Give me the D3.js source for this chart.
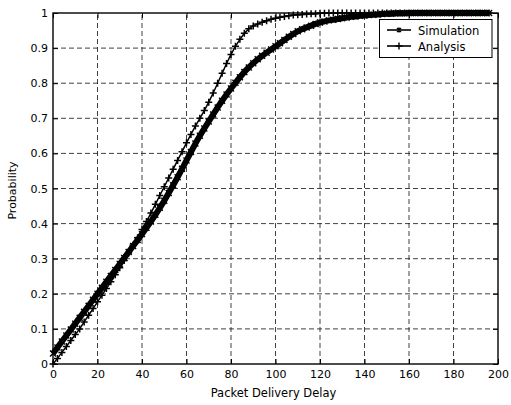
<!DOCTYPE html>
<html>
<head>
<meta charset="utf-8">
<script src="https://cdn.jsdelivr.net/npm/d3@7/dist/d3.min.js"></script>
<style>
  html, body { margin: 0; padding: 0; background: #fff; }
  svg { display: block; }
  text { font-family: "DejaVu Sans", "Liberation Sans", Arial, sans-serif; font-size: 11px; fill: #000; }
</style>
</head>
<body>
<svg id="chart" width="511" height="405"></svg>
<script>
// ---------- data ----------
const xTicks = [0, 20, 40, 60, 80, 100, 120, 140, 160, 180, 200];
const yTicks = [0, 0.1, 0.2, 0.3, 0.4, 0.5, 0.6, 0.7, 0.8, 0.9, 1];
const yTickLabels = ["0", "0.1", "0.2", "0.3", "0.4", "0.5", "0.6", "0.7", "0.8", "0.9", "1"];
const seriesNames = ["Simulation", "Analysis"];

const delay = [0,2,4,6,8,10,12,14,16,18,20,22,24,26,28,30,32,34,36,38,40,42,44,46,48,50,52,54,56,58,
  60,62,64,66,68,70,72,74,76,78,80,82,84,86,88,90,92,94,96,98,100,102,104,106,108,110,112,114,116,118,
  120,122,124,126,128,130,132,134,136,138,140,142,144,146,148,150,152,154,156,158,160,162,164,166,168,
  170,172,174,176,178,180,182,184,186,188,190,192,194,196];

const simulation = [0.030,0.047,0.064,0.081,0.098,0.115,0.132,0.149,0.166,0.183,
  0.200,0.217,0.234,0.251,0.268,0.285,0.302,0.319,0.336,0.353,
  0.370,0.388,0.406,0.425,0.445,0.465,0.487,0.509,0.532,0.556,
  0.580,0.604,0.628,0.650,0.671,0.691,0.711,0.731,0.750,0.768,
  0.785,0.801,0.817,0.832,0.845,0.857,0.868,0.878,0.887,0.896,
  0.905,0.914,0.923,0.932,0.940,0.948,0.954,0.959,0.964,0.969,
  0.973,0.976,0.979,0.981,0.983,0.985,0.987,0.989,0.990,0.992,
  0.993,0.994,0.995,0.996,0.997,0.998,0.998,0.999,0.999,0.999,
  1.000,1.000,1.000,1.000,1.000,1.000,1.000,1.000,1.000,1.000,
  1.000,1.000,1.000,1.000,1.000,1.000,1.000,1.000,1.000];

const analysis = [0.000,0.016,0.033,0.050,0.067,0.084,0.100,0.120,0.139,0.158,
  0.177,0.196,0.215,0.234,0.254,0.274,0.295,0.316,0.338,0.360,
  0.383,0.406,0.430,0.455,0.480,0.505,0.530,0.555,0.580,0.605,
  0.630,0.654,0.678,0.700,0.722,0.746,0.772,0.800,0.828,0.856,
  0.882,0.905,0.925,0.942,0.955,0.963,0.969,0.974,0.978,0.982,
  0.985,0.988,0.990,0.992,0.994,0.995,0.996,0.997,0.998,0.998,
  0.999,0.999,1.000,1.000,1.000,1.000,1.000,1.000,1.000,1.000,
  1.000,1.000,1.000,1.000,1.000,1.000,1.000,1.000,1.000,1.000,
  1.000,1.000,1.000,1.000,1.000,1.000,1.000,1.000,1.000,1.000,
  1.000,1.000,1.000,1.000,1.000,1.000,1.000,1.000,1.000];

// ---------- layout ----------
const svg = d3.select("#chart");
const L = 53, R = 498, T = 13, B = 364;
const x = d3.scaleLinear().domain([0, 200]).range([L, R]);
const y = d3.scaleLinear().domain([0, 1]).range([B, T]);

// grid
const grid = svg.append("g").attr("stroke", "#111").attr("stroke-width", 0.8)
  .attr("stroke-dasharray", "5,3").attr("fill", "none");
grid.selectAll("line.gx").data(xTicks.slice(1, -1)).join("line")
  .attr("x1", d => x(d)).attr("x2", d => x(d)).attr("y1", B).attr("y2", T);
grid.selectAll("line.gy").data(yTicks.slice(1, -1)).join("line")
  .attr("y1", d => y(d)).attr("y2", d => y(d)).attr("x1", L).attr("x2", R);

// axes (inward ticks, MATLAB style)
const axB = svg.append("g").attr("transform", `translate(0,${B})`)
  .call(d3.axisBottom(x).tickValues(xTicks).tickSizeInner(-5).tickSizeOuter(0).tickPadding(7));
const axL = svg.append("g").attr("transform", `translate(${L},0)`)
  .call(d3.axisLeft(y).tickValues(yTicks).tickFormat((d, i) => yTickLabels[i]).tickSizeInner(-5).tickSizeOuter(0).tickPadding(5));
const axT = svg.append("g").attr("transform", `translate(0,${T})`)
  .call(d3.axisTop(x).tickValues(xTicks).tickSizeInner(-5).tickSizeOuter(0).tickFormat(""));
const axR = svg.append("g").attr("transform", `translate(${R},0)`)
  .call(d3.axisRight(y).tickValues(yTicks).tickSizeInner(-5).tickSizeOuter(0).tickFormat(""));
[axB, axL, axT, axR].forEach(a => {
  a.select(".domain").remove();
  a.selectAll("line").attr("stroke", "#000");
  a.selectAll("text").attr("font-family", "DejaVu Sans, sans-serif").attr("font-size", 11).attr("fill", "#000");
});
axB.selectAll("text").attr("dy", "0.6em");

// frame
svg.append("rect").attr("x", L).attr("y", T).attr("width", R - L).attr("height", B - T)
  .attr("fill", "none").attr("stroke", "#000").attr("stroke-width", 1.4);

// series
const simData = delay.map((d, i) => [d, simulation[i]]);
const anaData = delay.map((d, i) => [d, analysis[i]]);
const line = d3.line().x(d => x(d[0])).y(d => y(d[1]));

// Simulation: dense thick curve with small x markers
svg.append("path").datum(simData).attr("d", line)
  .attr("fill", "none").attr("stroke", "#000").attr("stroke-width", 6).attr("stroke-linejoin", "round");
svg.append("g").selectAll("path").data(simData).join("path")
  .attr("transform", d => `translate(${x(d[0])},${y(d[1])})`)
  .attr("d", "M-3,-3L3,3M-3,3L3,-3").attr("stroke", "#000").attr("stroke-width", 1.4);

// Analysis: thin curve with + markers
svg.append("path").datum(anaData).attr("d", line)
  .attr("fill", "none").attr("stroke", "#000").attr("stroke-width", 1.5);
svg.append("g").selectAll("path").data(anaData).join("path")
  .attr("transform", d => `translate(${x(d[0])},${y(d[1])})`)
  .attr("d", "M-3.5,0L3.5,0M0,-3.5L0,3.5").attr("stroke", "#000").attr("stroke-width", 1.5);

// legend
const lg = svg.append("g");
lg.append("rect").attr("x", 379.5).attr("y", 19.5).attr("width", 112.5).attr("height", 38)
  .attr("fill", "#fff").attr("stroke", "#000").attr("stroke-width", 1);
const legendRows = [
  { name: seriesNames[0], y: 30, marker: "M-2,-2L2,2M-2,2L2,-2M0,-2.5L0,2.5" },
  { name: seriesNames[1], y: 46, marker: "M-3.5,0L3.5,0M0,-3.5L0,3.5" }
];
legendRows.forEach(r => {
  lg.append("line").attr("x1", 387).attr("x2", 411).attr("y1", r.y).attr("y2", r.y)
    .attr("stroke", "#000").attr("stroke-width", 1.6);
  lg.append("path").attr("transform", `translate(399,${r.y})`).attr("d", r.marker)
    .attr("stroke", "#000").attr("stroke-width", 1.4).attr("fill", "none");
  lg.append("text").attr("x", 418).attr("y", r.y + 4.5).style("font-size", "11.5px").text(r.name);
});

// axis titles
svg.append("text").attr("x", (L + R) / 2 - 2).attr("y", 397).attr("text-anchor", "middle")
  .style("font-size", "11.5px").text("Packet Delivery Delay");
svg.append("text").attr("transform", `translate(16,${(T + B) / 2 + 2}) rotate(-90)`)
  .attr("text-anchor", "middle").text("Probability");
</script>
</body>
</html>
